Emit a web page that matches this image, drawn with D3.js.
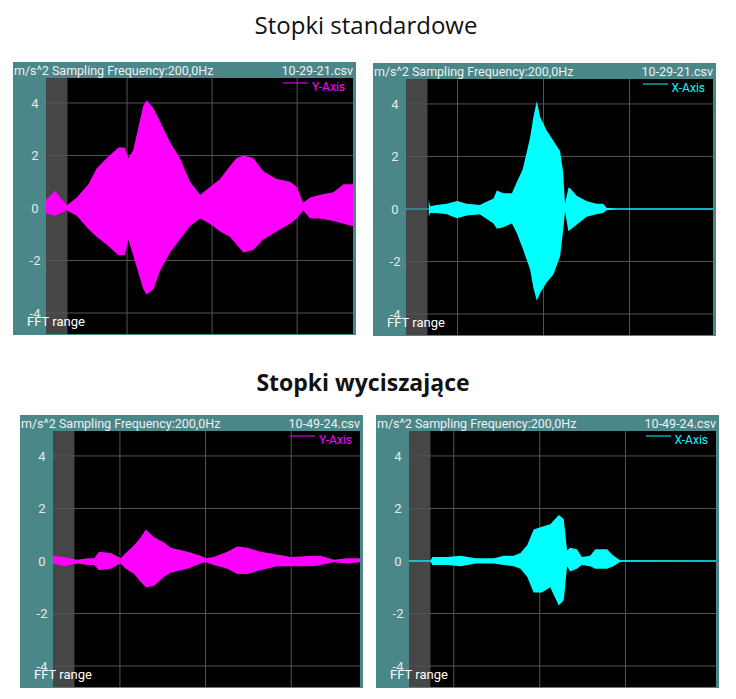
<!DOCTYPE html>
<html>
<head>
<meta charset="utf-8">
<script src="https://cdn.jsdelivr.net/npm/d3@7"></script>
<style>
  body { margin: 0; background: #fff; }
  text { font-family: Roboto, "Noto Sans", sans-serif; }
</style>
</head>
<body>
<div id="chart"></div>
<script>
// envelope data; t = 0..100 across the plot
const tlT     = [0, 2.9, 6.8, 10, 13.8, 16.5, 19.8, 23.6, 25.7, 26.8, 28.4, 31.7, 32.8, 35, 37.1, 40.4, 43.6, 46.9, 50.2, 53.4, 56.7, 59.9, 62.1, 64.3, 67.5, 70.8, 75.1, 79.5, 81.7, 83.8, 86, 89.3, 93.6, 96.9, 100];
const tlUpper = [0.3, 0.66, 0.1, 0.4, 0.9, 1.5, 1.9, 2.3, 2.3, 1.9, 2.2, 3.9, 4.1, 3.8, 3.3, 2.5, 1.9, 1.0, 0.5, 0.8, 1.1, 1.6, 1.9, 2.0, 1.9, 1.4, 1.1, 1.0, 0.8, 0.2, 0.4, 0.5, 0.6, 0.9, 0.9];
const tlLower = [-0.2, -0.3, -0.1, -0.3, -0.8, -1.1, -1.4, -1.8, -1.8, -1.2, -1.8, -3.1, -3.3, -3.1, -2.4, -1.7, -1.2, -0.7, -0.4, -0.6, -0.9, -1.1, -1.4, -1.7, -1.6, -1.2, -0.9, -0.6, -0.4, -0.1, -0.4, -0.4, -0.5, -0.6, -0.7];

const trT     = [7.4, 7.9, 10, 13.3, 16.6, 19.8, 24, 28.5, 29.6, 31.7, 34.5, 36, 38, 40.4, 41.5, 42.6, 43.7, 45.8, 48, 50.2, 51.2, 51.8, 52.9, 53.4, 55.6, 58.8, 62, 64.2, 65.3, 68.6, 100];
const trUpper = [0.35, 0.1, 0.15, 0.2, 0.3, 0.2, 0.15, 0.4, 0.7, 0.6, 0.6, 1.0, 1.5, 2.7, 3.5, 4.1, 3.5, 3.0, 2.6, 2.2, 1.4, 0.2, 0.8, 0.8, 0.5, 0.3, 0.2, 0.2, 0.05, 0.02, 0.02];
const trLower = [-0.3, -0.15, -0.15, -0.2, -0.35, -0.25, -0.2, -0.55, -0.75, -0.7, -0.55, -0.9, -1.5, -2.3, -3.0, -3.5, -3.2, -2.8, -2.5, -1.8, -0.8, -0.1, -0.85, -0.8, -0.6, -0.3, -0.2, -0.15, -0.05, -0.02, -0.02];

const blT     = [0, 3.6, 7.9, 11.2, 13.4, 15, 18.8, 22, 23.7, 26.4, 28.6, 30.2, 32.9, 36.2, 38.3, 43.8, 48.1, 49.7, 52.4, 56.8, 60, 63.3, 67.6, 73, 77.4, 85, 87.2, 91.5, 95.9, 100];
const blUpper = [0.2, 0.15, 0.05, 0.1, 0.1, 0.35, 0.3, 0.1, 0.3, 0.6, 0.9, 1.2, 0.9, 0.7, 0.5, 0.35, 0.2, 0.1, 0.15, 0.35, 0.55, 0.5, 0.35, 0.25, 0.15, 0.2, 0.2, 0.05, 0.1, 0.1];
const blLower = [-0.1, -0.2, -0.1, -0.15, -0.15, -0.35, -0.3, -0.1, -0.3, -0.5, -0.8, -1.0, -0.95, -0.6, -0.45, -0.3, -0.1, -0.05, -0.15, -0.3, -0.5, -0.5, -0.35, -0.2, -0.2, -0.2, -0.15, -0.05, -0.1, -0.05];

const brT     = [0, 7, 7.6, 12.5, 16.8, 21.7, 27.6, 30.9, 34.1, 36.3, 38.5, 40.6, 43.3, 46, 48.8, 50.4, 51.5, 52.5, 54.7, 56.3, 59, 60.7, 64.5, 66.6, 68.8, 100];
const brUpper = [0.02, 0.02, 0.15, 0.15, 0.2, 0.1, 0.1, 0.2, 0.2, 0.3, 0.6, 1.2, 1.3, 1.4, 1.75, 1.6, 0.4, 0.5, 0.45, 0.15, 0.2, 0.45, 0.45, 0.2, 0.03, 0.02];
const brLower = [-0.02, -0.02, -0.15, -0.15, -0.2, -0.1, -0.1, -0.15, -0.2, -0.3, -0.6, -1.2, -1.2, -1.0, -1.7, -1.5, -0.2, -0.4, -0.3, -0.15, -0.2, -0.3, -0.3, -0.2, -0.03, -0.02];

const yTicks = [4, 2, 0, -2, -4];
const titles = ["Stopki standardowe", "Stopki wyciszające"];

const panels = [
  {x: 13, y: 62, t: tlT, up: tlUpper, lo: tlLower, grid: [26.4, 54.1, 81.8], color: "#ff00ff", legend: "Y-Axis", file: "10-29-21.csv"},
  {x: 373, y: 63, t: trT, up: trUpper, lo: trLower, grid: [16.8, 44.8, 72.8], color: "#00ffff", legend: "X-Axis", file: "10-29-21.csv"},
  {x: 20, y: 415, t: blT, up: blUpper, lo: blLower, grid: [21.8, 49.7, 77.6], color: "#ff00ff", legend: "Y-Axis", file: "10-49-24.csv"},
  {x: 376, y: 415, t: brT, up: brUpper, lo: brLower, grid: [14.6, 42.6, 70.5], color: "#00ffff", legend: "X-Axis", file: "10-49-24.csv"}
];

const W = 736, H = 699;
const svg = d3.select("#chart").append("svg").attr("width", W).attr("height", H);

svg.append("text").attr("x", 366).attr("y", 34).attr("text-anchor", "middle")
  .style("font-family", "'Open Sans', 'Noto Sans', sans-serif").style("font-size", "24px").attr("fill", "#111")
  .text(titles[0]);
svg.append("text").attr("x", 363).attr("y", 391).attr("text-anchor", "middle")
  .style("font-family", "'Open Sans', 'Noto Sans', sans-serif").style("font-size", "23px").style("font-weight", "bold").attr("fill", "#111")
  .text(titles[1]);

const outerW = 343, outerH = 273, headH = 16, axisW = 33, plotW = 307;
const plotH = outerH - headH - 1;

panels.forEach(p => {
  const g = svg.append("g").attr("transform", `translate(${p.x},${p.y})`);
  g.append("rect").attr("width", outerW).attr("height", outerH).attr("fill", "#4a8789");

  const plot = g.append("g").attr("transform", `translate(${axisW},${headH})`);
  const x = d3.scaleLinear().domain([0, 100]).range([0, plotW]);
  const y = d3.scaleLinear().domain([-4.8, 4.95]).range([plotH, 0]);

  plot.append("rect").attr("width", plotW).attr("height", plotH).attr("fill", "#000");
  plot.append("rect").attr("width", x(7)).attr("height", plotH).attr("fill", "#464646");

  plot.selectAll(".gy").data(yTicks).join("line")
    .attr("x1", 0).attr("x2", plotW).attr("y1", d => y(d)).attr("y2", d => y(d))
    .attr("stroke", "#555").attr("stroke-width", 1);
  plot.selectAll(".gx").data(p.grid).join("line")
    .attr("x1", d => x(d)).attr("x2", d => x(d)).attr("y1", 0).attr("y2", plotH)
    .attr("stroke", "#555").attr("stroke-width", 1);

  const data = p.t.map((t, i) => ({t: t, up: p.up[i], lo: p.lo[i]}));
  const area = d3.area().x(d => x(d.t)).y0(d => y(d.lo)).y1(d => y(d.up));
  plot.append("path").datum(data).attr("d", area).attr("fill", p.color);
  plot.append("line").attr("x1", 0).attr("x2", plotW).attr("y1", y(0)).attr("y2", y(0))
    .attr("stroke", p.color).attr("stroke-width", 1).attr("opacity", 0.6);

  g.selectAll(".yl").data(yTicks).join("text")
    .attr("x", axisW - 11).attr("y", d => headH + y(d) + 5)
    .attr("text-anchor", "middle").attr("fill", "#e8e8e8").style("font-size", "13px")
    .text(d => d);

  g.append("text").attr("x", 1).attr("y", 13).attr("fill", "#f0f0f0").style("font-size", "12.5px")
    .text("m/s^2 Sampling Frequency:200,0Hz");
  g.append("text").attr("x", outerW - 3).attr("y", 13).attr("text-anchor", "end")
    .attr("fill", "#f0f0f0").style("font-size", "12.5px").text(p.file);

  plot.append("line").attr("x1", plotW - 70).attr("x2", plotW - 45).attr("y1", 5).attr("y2", 5)
    .attr("stroke", p.color).attr("stroke-width", 1);
  plot.append("text").attr("x", plotW - 8).attr("y", 13).attr("text-anchor", "end")
    .attr("fill", p.color).style("font-size", "12px").text(p.legend);

  g.append("text").attr("x", 14).attr("y", outerH - 9).attr("fill", "#fff").style("font-size", "13px")
    .text("FFT range");
});
</script>
</body>
</html>
